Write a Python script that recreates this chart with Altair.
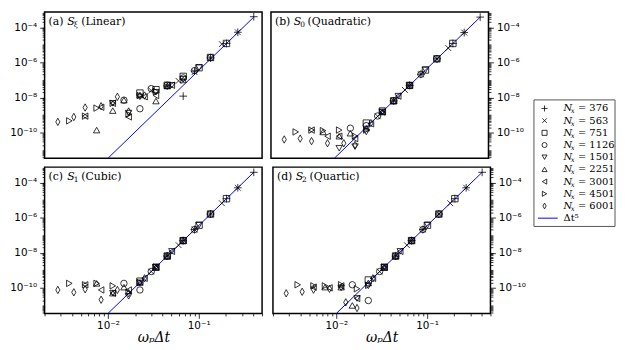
import altair as alt
import pandas as pd

# ---------------- data ----------------
NX = ["376", "563", "751", "1126", "1501", "2251", "3001", "4501", "6001"]
SHAPES = [
    "M-1.2,0L1.2,0M0,-1.2L0,1.2",            # +
    "M-0.9,-0.9L0.9,0.9M-0.9,0.9L0.9,-0.9",  # x
    "square", "circle", "triangle-down", "triangle-up",
    "triangle-left", "triangle-right",
    "M0,-1.15L0.65,0L0,1.15L-0.65,0Z",       # thin diamond
]

# omega_p * dt of the runs for each N_x
x_376 = [0.405, 0.27, 0.2025, 0.135, 0.09, 0.0675, 0.045]
x_563 = [0.27, 0.18, 0.135, 0.09, 0.06, 0.045, 0.03]
x_751 = [0.2025, 0.135, 0.101, 0.0675, 0.045, 0.0338, 0.0225]
x_1126 = [0.135, 0.09, 0.0675, 0.045, 0.03, 0.0225, 0.015]
x_1501 = [0.101, 0.0675, 0.0506, 0.0338, 0.0225, 0.0169, 0.0113]
x_2251 = [0.0675, 0.045, 0.0338, 0.0225, 0.015, 0.0113, 0.0075]
x_3001 = [0.0506, 0.0338, 0.0253, 0.0169, 0.0113, 0.0084, 0.0056]
x_4501 = [0.0338, 0.0225, 0.0169, 0.0113, 0.0075, 0.0056, 0.00375]
x_6001 = [0.0253, 0.0169, 0.0127, 0.0084, 0.0056, 0.0042, 0.0028]
XS = [x_376, x_563, x_751, x_1126, x_1501, x_2251, x_3001, x_4501, x_6001]

# (a) S_xi linear
err_linear = [
    [4.0e-4, 5.2e-5, 1.2e-5, 1.8e-6, 3.2e-7, 1.2e-8, 4.5e-8],
    [5.2e-5, 1.1e-5, 1.8e-6, 2.8e-7, 8.9e-8, 4.5e-8, 2.5e-8],
    [1.2e-5, 1.9e-6, 5.0e-7, 1.6e-7, 5.0e-8, 2.8e-8, 1.8e-8],
    [1.9e-6, 3.4e-7, 1.3e-7, 5.0e-8, 3.2e-8, 2.3e-9, 7.1e-9],
    [5.0e-7, 1.1e-7, 5.0e-8, 2.0e-8, 1.1e-8, 1.3e-9, 4.7e-9],
    [1.0e-7, 4.5e-8, 6.3e-9, 1.4e-8, 7.1e-9, 1.8e-9, 1.4e-10],
    [5.0e-8, 1.3e-8, 1.1e-8, 7.9e-10, 4.7e-9, 2.8e-9, 8.7e-10],
    [2.2e-8, 1.3e-8, 1.1e-9, 4.7e-9, 2.5e-9, 8.7e-10, 4.7e-10],
    [1.3e-8, 1.6e-9, 1.1e-8, 3.2e-9, 2.7e-9, 7.8e-10, 4.1e-10],
]
# (b) S_0 quadratic
err_quadratic = [
    [3.8e-4, 5.0e-5, 1.2e-5, 1.6e-6, 2.1e-7, 4.9e-8, 6.5e-9],
    [5.0e-5, 6.6e-6, 1.6e-6, 2.1e-7, 2.7e-8, 6.5e-9, 8.5e-10],
    [1.2e-5, 1.6e-6, 3.7e-7, 4.9e-8, 6.5e-9, 1.7e-9, 3.5e-10],
    [1.6e-6, 2.1e-7, 4.9e-8, 6.5e-9, 8.9e-10, 2.5e-10, 1.8e-10],
    [3.7e-7, 4.9e-8, 1.2e-8, 1.5e-9, 1.1e-10, 1.6e-11, 1.3e-11],
    [4.9e-8, 6.5e-9, 1.5e-9, 1.8e-10, 9.3e-11, 6.3e-11, 1.1e-10],
    [1.2e-8, 1.5e-9, 3.2e-10, 4.6e-11, 6.3e-11, 6.3e-11, 1.4e-10],
    [1.5e-9, 1.4e-10, 6.3e-11, 1.4e-10, 1.3e-10, 1.4e-10, 1.1e-10],
    [3.5e-10, 2.0e-11, 2.5e-11, 2.5e-11, 3.3e-11, 4.6e-11, 4.1e-11],
]
# (c) S_1 cubic
err_cubic = [
    [3.8e-4, 5.0e-5, 1.2e-5, 1.6e-6, 2.1e-7, 4.9e-8, 6.5e-9],
    [5.0e-5, 6.6e-6, 1.6e-6, 2.1e-7, 2.7e-8, 6.5e-9, 8.5e-10],
    [1.2e-5, 1.6e-6, 3.7e-7, 4.9e-8, 6.5e-9, 1.5e-9, 2.4e-10],
    [1.6e-6, 2.1e-7, 4.9e-8, 6.5e-9, 8.5e-10, 7.6e-11, 1.8e-10],
    [3.7e-7, 4.9e-8, 1.2e-8, 1.5e-9, 1.9e-10, 3.3e-11, 5.0e-11],
    [4.9e-8, 6.5e-9, 1.5e-9, 2.0e-10, 1.1e-10, 5.0e-11, 1.8e-10],
    [1.2e-8, 1.5e-9, 3.5e-10, 7.6e-11, 5.0e-11, 7.6e-11, 1.5e-10],
    [1.5e-9, 2.0e-10, 5.6e-11, 1.3e-10, 1.8e-10, 1.5e-10, 1.8e-10],
    [3.5e-10, 5.0e-11, 7.6e-11, 2.1e-11, 8.3e-11, 5.6e-11, 7.6e-11],
]
# (d) S_2 quartic
err_quartic = [
    [3.8e-4, 5.0e-5, 1.2e-5, 1.6e-6, 2.1e-7, 4.9e-8, 6.5e-9],
    [5.0e-5, 6.6e-6, 1.6e-6, 2.1e-7, 2.7e-8, 6.5e-9, 8.5e-10],
    [1.2e-5, 1.6e-6, 3.7e-7, 4.9e-8, 6.5e-9, 1.5e-9, 2.8e-10],
    [1.6e-6, 2.1e-7, 4.9e-8, 6.5e-9, 8.5e-10, 1.9e-11, 1.5e-10],
    [3.7e-7, 4.9e-8, 1.2e-8, 1.5e-9, 1.3e-10, 2.5e-11, 1.0e-10],
    [4.9e-8, 6.5e-9, 1.5e-9, 1.9e-10, 1.0e-11, 1.1e-10, 1.1e-10],
    [1.2e-8, 1.5e-9, 3.5e-10, 2.5e-11, 1.3e-10, 1.0e-10, 1.1e-10],
    [1.5e-9, 1.4e-10, 8.9e-11, 1.5e-10, 1.3e-10, 1.3e-10, 1.5e-10],
    [3.5e-10, 7.1e-12, 1.5e-11, 8.9e-11, 7.9e-11, 6.0e-11, 4.9e-11],
]

# reference dt^5 line (end points)
line_x = [0.01, 0.405]
line_y = [3.5e-12, 3.8e-4]

PANELS = [
    ("a", "(a)", "ξ", "(Linear)", err_linear),
    ("b", "(b)", "0", "(Quadratic)", err_quadratic),
    ("c", "(c)", "1", "(Cubic)", err_cubic),
    ("d", "(d)", "2", "(Quartic)", err_quartic),
]

X_DOMAIN = [0.002, 0.5]
Y_DOMAIN = [3.5e-12, 7.5e-4]
X_LABEL_EXP = [-2, -1]
X_LABELS = ["10⁻²", "10⁻¹"]
Y_LABEL_EXP = [-4, -6, -8, -10]
Y_LABELS = ["10⁻⁴", "10⁻⁶", "10⁻⁸", "10⁻¹⁰"]

# ---------------- tables ----------------
rows = []
for key, _, _, _, errs in PANELS:
    for nx, xs, ys in zip(NX, XS, errs):
        for xv, yv in zip(xs, ys):
            rows.append({"panel": key, "nx": nx, "x": xv, "y": yv})
df = pd.DataFrame(rows)
line_df = pd.DataFrame({"x": line_x, "y": line_y})

# tick positions (decades and 2..9 sub-ticks)
x_ticks = [k * 10.0 ** n for n in range(-3, 0) for k in range(1, 10)
           if X_DOMAIN[0] * 0.999 <= k * 10.0 ** n <= X_DOMAIN[1] * 1.001]
y_ticks = [k * 10.0 ** n for n in range(-12, -2) for k in range(1, 10)
           if Y_DOMAIN[0] <= k * 10.0 ** n <= Y_DOMAIN[1]]

L10 = "(log(datum.value)/LN10)"
IS_DEC = f"abs({L10} - round({L10})) < 0.001"
EXP = f"round({L10})"
IS_Y_MAJOR = f"{IS_DEC} && {EXP} % 2 == 0"


def label_expr(exps, labels):
    inner = "''"
    for e, lab in reversed(list(zip(exps, labels))):
        inner = f"({EXP} == {e} ? '{lab}' : {inner})"
    return f"{IS_DEC} ? {inner} : ''"


x_tick_size = {"condition": {"test": IS_DEC, "value": 5}, "value": 2.5}
y_tick_size = {"condition": {"test": IS_Y_MAJOR, "value": 5}, "value": 2.5}
x_label_size = {"condition": {"test": IS_DEC, "value": 10.5}, "value": 0}
y_label_size = {"condition": {"test": IS_Y_MAJOR, "value": 10.5}, "value": 0}

xs_scale = alt.Scale(type="log", domain=X_DOMAIN, nice=False)
ys_scale = alt.Scale(type="log", domain=Y_DOMAIN, nice=False)
shape_scale = alt.Scale(domain=NX, range=SHAPES)

W, H = 220, 148
SERIF = "DejaVu Serif"


def make_panel(key, tag, sub, name, left, bottom):
    if bottom:
        xaxis = alt.Axis(values=x_ticks, labelExpr=label_expr(X_LABEL_EXP, X_LABELS),
                         tickSize=x_tick_size, labelFontSize=x_label_size,
                         labelOverlap=False, labelPadding=2,
                         title="ωₚΔt", titlePadding=0)
    else:
        xaxis = None
    yaxis = alt.Axis(values=y_ticks, labelExpr=label_expr(Y_LABEL_EXP, Y_LABELS),
                     tickSize=y_tick_size, labelFontSize=y_label_size,
                     labelOverlap=False, labelPadding=3,
                     orient="left" if left else "right", title=None)
    line = alt.Chart(line_df).mark_line(color="#0000ff", strokeWidth=1, clip=True).encode(
        x=alt.X("x:Q", scale=xs_scale, axis=xaxis),
        y=alt.Y("y:Q", scale=ys_scale, axis=yaxis),
    )
    pts = alt.Chart(df[df.panel == key]).mark_point(
        color="black", filled=False, strokeWidth=0.8, size=42, opacity=1
    ).encode(
        x=alt.X("x:Q", scale=xs_scale, axis=xaxis),
        y=alt.Y("y:Q", scale=ys_scale, axis=yaxis),
        shape=alt.Shape("nx:N", scale=shape_scale, legend=None),
    )
    t = pd.DataFrame({"tag": [tag], "sub": [sub], "name": [name]})
    base = alt.Chart(t)
    t1 = base.mark_text(font=SERIF, fontSize=11, align="left", baseline="alphabetic",
                        color="black").encode(x=alt.value(4), y=alt.value(13), text="tag:N")
    t2 = base.mark_text(font=SERIF, fontSize=11, fontStyle="italic", align="left",
                        baseline="alphabetic", color="black").encode(
        x=alt.value(23), y=alt.value(13), text=alt.value("S"))
    t3 = base.mark_text(font=SERIF, fontSize=7.5, align="left", baseline="alphabetic",
                        color="black").encode(x=alt.value(29.5), y=alt.value(15.5), text="sub:N")
    t4 = base.mark_text(font=SERIF, fontSize=11, align="left", baseline="alphabetic",
                        color="black").encode(x=alt.value(37), y=alt.value(13), text="name:N")
    return alt.layer(line, pts, t1, t2, t3, t4).properties(width=W, height=H)


pa = make_panel("a", "(a)", "ξ", "(Linear)", True, False)
pb = make_panel("b", "(b)", "0", "(Quadratic)", False, False)
pc = make_panel("c", "(c)", "1", "(Cubic)", True, True)
pd_ = make_panel("d", "(d)", "2", "(Quartic)", False, True)

grid = alt.vconcat(
    alt.hconcat(pa, pb, spacing=7),
    alt.hconcat(pc, pd_, spacing=7),
    spacing=7,
)

# ---------------- legend (drawn as its own small chart) ----------------
LEG_H = 2 * H + 7
leg_scale = alt.Scale(domain=[-7.92, -7.92 + LEG_H / 12.33], reverse=True, nice=False, zero=False)
leg_df = pd.DataFrame({"row": list(range(len(NX))), "nx": NX, "eq": ["= " + n for n in NX]})
line_row = pd.DataFrame({"row": [len(NX)], "lab": ["Δt⁵"]})
box_df = pd.DataFrame({"top": [-0.7], "bottom": [len(NX) + 0.68]})

lbase = alt.Chart(leg_df)
ly = alt.Y("row:Q", scale=leg_scale, axis=None)
leg_pts = lbase.mark_point(color="black", filled=False, strokeWidth=0.8, size=26, opacity=1).encode(
    x=alt.value(10.7), y=ly, shape=alt.Shape("nx:N", scale=shape_scale, legend=None))
leg_n = lbase.mark_text(font=SERIF, fontSize=10, fontStyle="italic", align="left",
                        baseline="middle", color="black").encode(
    x=alt.value(30), y=ly, text=alt.value("N"))
leg_sub = lbase.mark_text(font=SERIF, fontSize=7, fontStyle="italic", align="left",
                          baseline="middle", color="black", dy=3).encode(
    x=alt.value(37.3), y=ly, text=alt.value("x"))
leg_eq = lbase.mark_text(font=SERIF, fontSize=10, align="left", baseline="middle",
                         color="black").encode(x=alt.value(44.5), y=ly, text="eq:N")
leg_line = alt.Chart(line_row).mark_rule(color="#0000ff", strokeWidth=1).encode(
    x=alt.value(4), x2=alt.value(24), y=ly)
leg_line_txt = alt.Chart(line_row).mark_text(font=SERIF, fontSize=10, align="left",
                                             baseline="middle", color="black").encode(
    x=alt.value(30), y=ly, text="lab:N")
leg_box = alt.Chart(box_df).mark_rect(fillOpacity=0, stroke="#555555", strokeWidth=1).encode(
    x=alt.value(0), x2=alt.value(82),
    y=alt.Y("top:Q", scale=leg_scale, axis=None), y2="bottom:Q")

legend = alt.layer(leg_box, leg_pts, leg_n, leg_sub, leg_eq, leg_line, leg_line_txt).properties(
    width=82, height=LEG_H, view=alt.ViewBackground(stroke="transparent"))

chart = alt.hconcat(grid, legend, spacing=5).properties(
    padding={"left": 0, "top": 0, "right": 0, "bottom": 0}
).configure_view(
    stroke="black", strokeWidth=1.5
).configure_axis(
    labelFont="DejaVu Sans", labelColor="black",
    tickColor="black", tickWidth=0.8, domain=False, grid=False,
    titleFont=SERIF, titleFontSize=14, titleFontWeight="normal",
    titleFontStyle="italic", titleColor="black",
)

chart.save("out.html", embed_options={"renderer": "svg", "actions": False})
